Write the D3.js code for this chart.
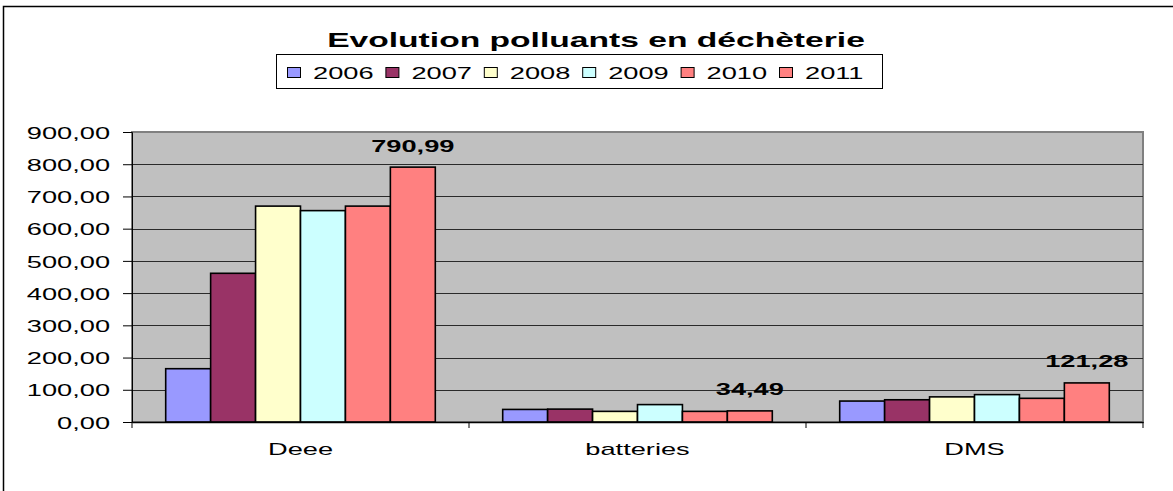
<!DOCTYPE html>
<html>
<head>
<meta charset="utf-8">
<script src="https://cdn.jsdelivr.net/npm/d3@7"></script>
<style>
  body { margin: 0; background: #fff; }
  text { font-family: Arial, "Liberation Sans", sans-serif; fill: #000; }
</style>
</head>
<body>
<div id="chart"></div>
<script>
var categories = ["Deee", "batteries", "DMS"]
var years = ["2006", "2007", "2008", "2009", "2010", "2011"]
var colors = ["#9999FF", "#993366", "#FFFFCC", "#CCFFFF", "#FF8080", "#FF8080"]
var v2006 = [165.4, 39, 65]
var v2007 = [461.5, 40, 69]
var v2008 = [670, 33, 78]
var v2009 = [656, 54, 85]
var v2010 = [670, 33, 73.5]
var v2011 = [790.99, 34.49, 121.28]
var yTicks = [0, 100, 200, 300, 400, 500, 600, 700, 800, 900]

var series = [v2006, v2007, v2008, v2009, v2010, v2011]

var width = 1173, height = 491;
// the picture is stretched wide, so the text is too
var SX = 1.6;

var plot = {left: 132, right: 1143, top: 132, bottom: 422};

var svg = d3.select("#chart").append("svg")
    .attr("width", width)
    .attr("height", height);

// outer chart frame (only top and left show)
svg.append("rect")
    .attr("x", 3.5).attr("y", 6.5)
    .attr("width", width + 20).attr("height", height + 20)
    .attr("fill", "#fff")
    .attr("stroke", "#000")
    .attr("stroke-width", 1.5);

function stretch(sel) {
    sel.each(function () {
        var w = this.getComputedTextLength();
        d3.select(this)
            .attr("textLength", w * SX)
            .attr("lengthAdjust", "spacingAndGlyphs");
    });
}

// scales
var x0 = d3.scaleBand()
    .domain(categories)
    .range([plot.left, plot.right])
    .paddingInner(0).paddingOuter(0);

var x1 = d3.scaleBand()
    .domain(years)
    .range([0, x0.bandwidth()])
    .paddingInner(0).paddingOuter(0.75);

var y = d3.scaleLinear()
    .domain([0, 900])
    .range([plot.bottom, plot.top]);

// plot area
svg.append("rect")
    .attr("x", plot.left).attr("y", plot.top)
    .attr("width", plot.right - plot.left)
    .attr("height", plot.bottom - plot.top)
    .attr("fill", "#C0C0C0")
    .attr("stroke", "#808080")
    .attr("stroke-width", 2);

// gridlines
svg.append("g")
    .selectAll("line")
    .data(yTicks.filter(function (d) { return d > 0 && d < 900; }))
    .enter().append("line")
    .attr("x1", plot.left).attr("x2", plot.right)
    .attr("y1", function (d) { return Math.round(y(d)) + 0.5; })
    .attr("y2", function (d) { return Math.round(y(d)) + 0.5; })
    .attr("stroke", "#2a2a2a")
    .attr("stroke-width", 1);

// y axis
var yAxis = d3.axisLeft(y)
    .tickValues(yTicks)
    .tickSize(9)
    .tickPadding(13)
    .tickFormat(function (d) { return d3.format(".2f")(d).replace(".", ","); });

var gy = svg.append("g")
    .attr("transform", "translate(" + plot.left + ",0)")
    .call(yAxis);
gy.select(".domain").attr("stroke", "#000").attr("stroke-width", 1);
gy.selectAll(".tick line").attr("stroke", "#000");
gy.selectAll(".tick text")
    .attr("font-size", 17)
    .attr("dy", "0.36em")
    .attr("font-family", "Arial, 'Liberation Sans', sans-serif")
    .call(stretch);

// bars
var groups = svg.append("g")
    .selectAll("g")
    .data(categories)
    .enter().append("g")
    .attr("transform", function (d) { return "translate(" + x0(d) + ",0)"; });

groups.selectAll("rect")
    .data(function (c, ci) {
        return years.map(function (yr, si) {
            return {year: yr, si: si, value: series[si][ci]};
        });
    })
    .enter().append("rect")
    .attr("x", function (d) { return x1(d.year); })
    .attr("y", function (d) { return y(d.value); })
    .attr("width", x1.bandwidth())
    .attr("height", function (d) { return y(0) - y(d.value); })
    .attr("fill", function (d) { return colors[d.si]; })
    .attr("stroke", "#000")
    .attr("stroke-width", 1.6);

// value labels on the 2011 series
svg.append("g")
    .selectAll("text")
    .data(categories)
    .enter().append("text")
    .attr("x", function (d) { return x0(d) + x1("2011") + x1.bandwidth() / 2; })
    .attr("y", function (d, i) { return y(v2011[i]) - 15.5; })
    .attr("text-anchor", "middle")
    .attr("font-size", 17)
    .attr("font-weight", "bold")
    .text(function (d, i) { return d3.format(".2f")(v2011[i]).replace(".", ","); })
    .call(stretch);

// x axis
var xAxis = d3.axisBottom(x0).tickSize(0).tickPadding(0);
var gx = svg.append("g")
    .attr("transform", "translate(0," + plot.bottom + ")")
    .call(xAxis);
gx.select(".domain").attr("stroke", "#000").attr("stroke-width", 1.5);
gx.selectAll(".tick text")
    .attr("font-size", 17)
    .attr("dy", 0)
    .attr("y", 33)
    .attr("font-family", "Arial, 'Liberation Sans', sans-serif")
    .call(stretch);

// category separators below the axis
gx.append("g")
    .selectAll("line")
    .data(categories.map(function (c) { return x0(c); }).concat([plot.right]))
    .enter().append("line")
    .attr("x1", function (d) { return d; })
    .attr("x2", function (d) { return d; })
    .attr("y1", 0).attr("y2", 6)
    .attr("stroke", "#000");

// title
svg.append("text")
    .attr("x", 596)
    .attr("y", 46.5)
    .attr("text-anchor", "middle")
    .attr("font-size", 21)
    .attr("font-weight", "bold")
    .text("Evolution polluants en déchèterie")
    .call(stretch);

// legend
var legend = svg.append("g").attr("transform", "translate(276,54)");
legend.append("rect")
    .attr("x", 0.5).attr("y", 0.5)
    .attr("width", 606).attr("height", 34)
    .attr("fill", "#fff")
    .attr("stroke", "#000");

var items = legend.selectAll("g.item")
    .data(years)
    .enter().append("g")
    .attr("class", "item")
    .attr("transform", function (d, i) { return "translate(" + (11 + i * 98.4) + ",0)"; });

items.append("rect")
    .attr("x", 0.5).attr("y", 13.5)
    .attr("width", 13).attr("height", 10)
    .attr("fill", function (d, i) { return colors[i]; })
    .attr("stroke", "#000")
    .attr("stroke-width", 1);

items.append("text")
    .attr("x", 26)
    .attr("y", 24.5)
    .attr("font-size", 17)
    .text(function (d) { return d; })
    .call(stretch);
</script>
</body>
</html>
